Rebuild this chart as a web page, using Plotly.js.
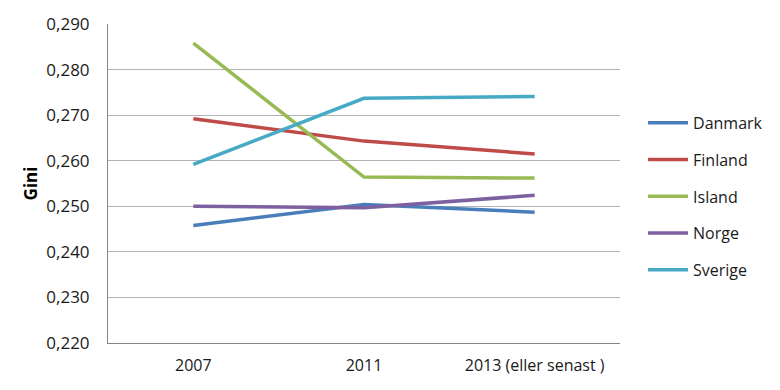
<!DOCTYPE html>
<html>
<head>
<meta charset="utf-8">
<script src="https://cdn.plot.ly/plotly-3.0.1.min.js"></script>
<style>html,body{margin:0;padding:0;background:#fff;}#chart{width:780px;height:390px;}</style>
</head>
<body>
<div id="chart"></div>
<script>
const categories = ["2007", "2011", "2013 (eller senast )"];
const danmark = [0.2458, 0.2504, 0.2487];
const finland = [0.2692, 0.2643, 0.2615];
const island  = [0.2858, 0.2564, 0.2562];
const norge   = [0.2500, 0.2497, 0.2524];
const sverige = [0.2592, 0.2737, 0.2741];
const seriesNames = ["Danmark", "Finland", "Island", "Norge", "Sverige"];
const seriesValues = [danmark, finland, island, norge, sverige];
const colors = ["#4a7ebb", "#be4b48", "#98b954", "#7d60a0", "#46aac5"];
const yTicks = [0.22, 0.23, 0.24, 0.25, 0.26, 0.27, 0.28, 0.29];
const yTickText = ["0,220", "0,230", "0,240", "0,250", "0,260", "0,270", "0,280", "0,290"];

const traces = seriesNames.map((n, i) => ({
  type: "scatter", mode: "lines", name: n, x: categories, y: seriesValues[i],
  line: {color: colors[i], width: 3.5}, legendgroup: n
}));

const layout = {
  width: 780, height: 390,
  margin: {l: 108, r: 160, t: 24, b: 47},
  paper_bgcolor: "#fff", plot_bgcolor: "#fff",
  font: {family: "Open Sans, Noto Sans, sans-serif", size: 16, color: "#1a1a1a"},
  showlegend: true,
  legend: {x: 1.045, xanchor: "left", y: 0.46, yanchor: "middle",
    font: {size: 16, color: "#1a1a1a"}, tracegroupgap: 13, traceorder: "grouped",
    itemwidth: 40},
  xaxis: {type: "category", range: [-0.5, 2.5], showgrid: false, zeroline: false,
    showline: true, linecolor: "#868686", linewidth: 1, ticks: "",
    ticklabelstandoff: 8,
    tickfont: {size: 16, color: "#1a1a1a"}},
  yaxis: {range: [0.22, 0.29], tickvals: yTicks, ticktext: yTickText,
    showgrid: true, gridcolor: "#b3b3b3", gridwidth: 1, zeroline: false,
    showline: true, linecolor: "#868686", linewidth: 1, ticks: "",
    ticklabelstandoff: 14,
    tickfont: {size: 17, color: "#1a1a1a"},
    title: {text: "<b>Gini</b>", font: {size: 17, color: "#000"}, standoff: 4}}
};
Plotly.newPlot("chart", traces, layout, {displayModeBar: false});
</script>
</body>
</html>
